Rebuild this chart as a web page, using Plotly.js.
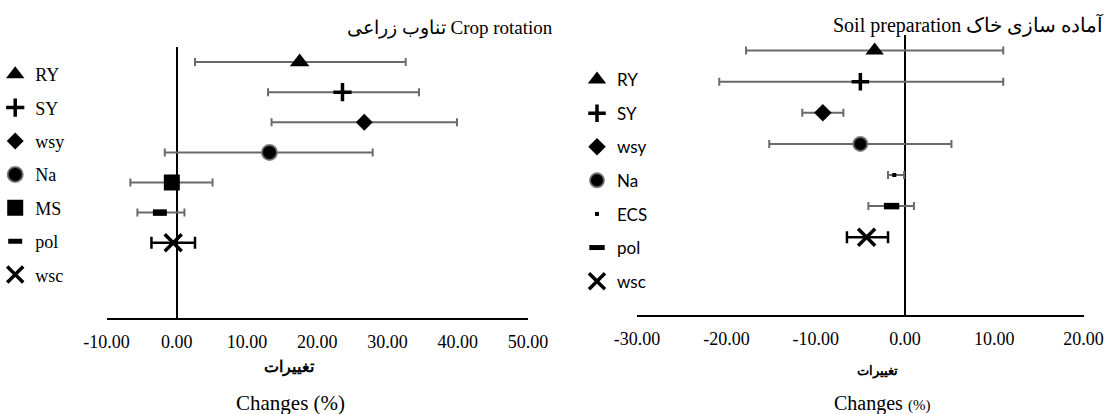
<!DOCTYPE html>
<html>
<head>
<meta charset="utf-8">
<script src="https://cdn.plot.ly/plotly-3.0.1.min.js"></script>
<style>
html,body{margin:0;padding:0;background:#fff;}
#chart{width:1109px;height:414px;}
</style>
</head>
<body>
<div id="chart"></div>
<script>
// ---- data: Crop rotation (left panel) ----
const catsL = ['RY', 'SY', 'wsy', 'Na', 'MS', 'pol', 'wsc'];
const meanL = [17.5, 23.6, 26.7, 13.2, -0.7, -2.4, -0.5];
const lowL  = [2.6, 13.0, 13.5, -1.7, -6.6, -5.6, -3.6];
const highL = [32.6, 34.5, 39.9, 27.9, 5.1, 1.1, 2.6];
const tickValsL = [-10, 0, 10, 20, 30, 40, 50];
const tickTextL = ['-10.00', '0.00', '10.00', '20.00', '30.00', '40.00', '50.00'];

// ---- data: Soil preparation (right panel) ----
const catsR = ['RY', 'SY', 'wsy', 'Na', 'ECS', 'pol', 'wsc'];
const meanR = [-3.4, -5.0, -9.2, -5.0, -1.2, -1.5, -4.3];
const lowR  = [-17.8, -20.8, -11.5, -15.2, -1.9, -4.1, -6.5];
const highR = [11.0, 11.0, -6.9, 5.2, -0.1, 1.0, -1.9];
const tickValsR = [-30, -20, -10, 0, 10, 20];
const tickTextR = ['-30.00', '-20.00', '-10.00', '0.00', '10.00', '20.00'];

// ---- text ----
const titleL = 'تناوب زراعی Crop rotation';
const titleR = 'Soil preparation آماده سازی خاک';
const axisFa = 'تغییرات';
const axisEn = 'Changes (%)';

// ---- styles (per series name) ----
const styleL = {
  RY:  {symbol: 'triangle-up', size: 17, lw: 0},
  SY:  {symbol: 'cross-thin', size: 13, lw: 3.5},
  wsy: {symbol: 'diamond', size: 13, lw: 0},
  Na:  {symbol: 'circle', size: 15, lw: 2, lc: 'rgba(110,110,110,0.85)'},
  MS:  {symbol: 'square', size: 16, lw: 0},
  pol: {symbol: 'line-ew', size: 10, lw: 6.5},
  wsc: {symbol: 'x-thin', size: 17, lw: 3.5}
};
const styleR = {
  RY:  {symbol: 'triangle-up', size: 16, lw: 0},
  SY:  {symbol: 'cross-thin', size: 12.5, lw: 3.5},
  wsy: {symbol: 'diamond', size: 13.5, lw: 0},
  Na:  {symbol: 'circle', size: 14, lw: 2, lc: 'rgba(110,110,110,0.85)'},
  ECS: {symbol: 'square', size: 4, lw: 0},
  pol: {symbol: 'line-ew', size: 11, lw: 6.5},
  wsc: {symbol: 'x-thin', size: 17, lw: 3.5}
};

const serif = 'Liberation Serif';
const sans = 'Lato';

function buildTraces(cats, mean, low, high, styles, xa, ya, legendId, prefix) {
  return cats.map(function (c, i) {
    const st = styles[c];
    const isX = c === 'wsc';
    return {
      type: 'scatter',
      mode: 'markers',
      name: c,
      x: [mean[i]],
      y: [c],
      xaxis: xa,
      yaxis: ya,
      legend: legendId,
      legendgroup: prefix + i,
      cliponaxis: false,
      marker: {
        symbol: st.symbol,
        size: st.size,
        color: '#000',
        line: {width: st.lw, color: st.lc || '#000'}
      },
      error_x: {
        type: 'data',
        symmetric: false,
        array: [high[i] - mean[i]],
        arrayminus: [mean[i] - low[i]],
        color: isX ? '#000' : '#6a6a6a',
        thickness: isX ? 2.5 : 2,
        width: isX ? 6 : 4
      },
      hoverinfo: 'x+name'
    };
  });
}

const traces = []
  .concat(buildTraces(catsL, meanL, lowL, highL, styleL, 'x', 'y', 'legend', 'L'))
  .concat(buildTraces(catsR, meanR, lowR, highR, styleR, 'x2', 'y2', 'legend2', 'R'));

const W = 1109, H = 414;
const px = v => v / W;
const py = v => 1 - v / H;

const xCommon = {
  showgrid: false,
  zeroline: true,
  zerolinecolor: '#000',
  zerolinewidth: 2,
  showline: true,
  linecolor: '#000',
  linewidth: 2,
  ticks: 'outside',
  ticklen: 6,
  tickcolor: 'rgba(0,0,0,0)',
  tickmode: 'array',
  tickangle: 0,
  automargin: false,
  tickfont: {family: serif, size: 18, color: '#000'},
  fixedrange: true
};
const yCommon = {
  type: 'category',
  showgrid: false,
  zeroline: false,
  showline: false,
  showticklabels: false,
  ticks: '',
  automargin: false,
  range: [-2.5, 6.5],
  fixedrange: true
};

const layout = {
  width: W,
  height: H,
  font: {family: serif, size: 18, color: '#000'},
  margin: {l: 0, r: 0, t: 0, b: 0, pad: 0, autoexpand: false},
  paper_bgcolor: '#fff',
  plot_bgcolor: 'rgba(0,0,0,0)',
  showlegend: true,
  xaxis: Object.assign({}, xCommon, {domain: [px(106.5), px(527.9)], range: [-10, 50], anchor: 'y',
    tickvals: tickValsL, ticktext: tickTextL}),
  yaxis: Object.assign({}, yCommon, {domain: [py(318), py(47)], anchor: 'x',
    categoryorder: 'array', categoryarray: catsL.slice().reverse()}),
  xaxis2: Object.assign({}, xCommon, {domain: [px(637.1), px(1083.6)], range: [-30, 20], anchor: 'y2',
    tickvals: tickValsR, ticktext: tickTextR}),
  yaxis2: Object.assign({}, yCommon, {domain: [py(315), py(35)], anchor: 'x2',
    categoryorder: 'array', categoryarray: catsR.slice().reverse()}),
  legend: {
    xref: 'container', yref: 'container',
    x: 0.002, y: py(56), xanchor: 'left', yanchor: 'top',
    bgcolor: 'rgba(0,0,0,0)', borderwidth: 0,
    font: {family: serif, size: 18, color: '#000'},
    tracegroupgap: 7,
    itemsizing: 'trace',
    indentation: -7,
    maxheight: 340,
    itemclick: false, itemdoubleclick: false
  },
  legend2: {
    xref: 'container', yref: 'container',
    x: px(585), y: py(62), xanchor: 'left', yanchor: 'top',
    bgcolor: 'rgba(0,0,0,0)', borderwidth: 0,
    font: {family: sans, size: 17, color: '#000'},
    tracegroupgap: 8.5,
    itemsizing: 'trace',
    indentation: -8,
    maxheight: 340,
    itemclick: false, itemdoubleclick: false
  },
  annotations: [
    {text: titleL, xref: 'paper', yref: 'paper', x: px(555), y: py(28),
     xanchor: 'right', yanchor: 'middle', showarrow: false,
     font: {family: serif, size: 19, color: '#000'}},
    {text: titleR, xref: 'paper', yref: 'paper', x: px(831), y: py(25),
     xanchor: 'left', yanchor: 'middle', showarrow: false,
     font: {family: serif, size: 20, color: '#000'}},
    {text: '<b>' + axisFa + '</b>', xref: 'paper', yref: 'paper', x: px(289), y: py(367),
     xanchor: 'center', yanchor: 'middle', showarrow: false,
     font: {family: serif, size: 16, color: '#000'}},
    {text: axisEn, xref: 'paper', yref: 'paper', x: px(290), y: py(403),
     xanchor: 'center', yanchor: 'middle', showarrow: false,
     font: {family: serif, size: 21, color: '#000'}},
    {text: '<b>' + axisFa + '</b>', xref: 'paper', yref: 'paper', x: px(877), y: py(371),
     xanchor: 'center', yanchor: 'middle', showarrow: false,
     font: {family: serif, size: 13, color: '#000'}},
    {text: 'Changes <span style="font-size:15px">(%)</span>', xref: 'paper', yref: 'paper', x: px(882), y: py(403),
     xanchor: 'center', yanchor: 'middle', showarrow: false,
     font: {family: serif, size: 20, color: '#000'}}
  ]
};

Plotly.newPlot('chart', traces, layout, {displayModeBar: false, staticPlot: true}).then(function (gd) {
  // make sure each legend keeps its own typeface
  gd.querySelectorAll('g.legend text.legendtext').forEach(function (t) {
    t.style.fontFamily = "'Liberation Serif', serif";
  });
  gd.querySelectorAll('g.legend2 text.legendtext').forEach(function (t) {
    t.style.fontFamily = "Lato, sans-serif";
  });
});
</script>
</body>
</html>
